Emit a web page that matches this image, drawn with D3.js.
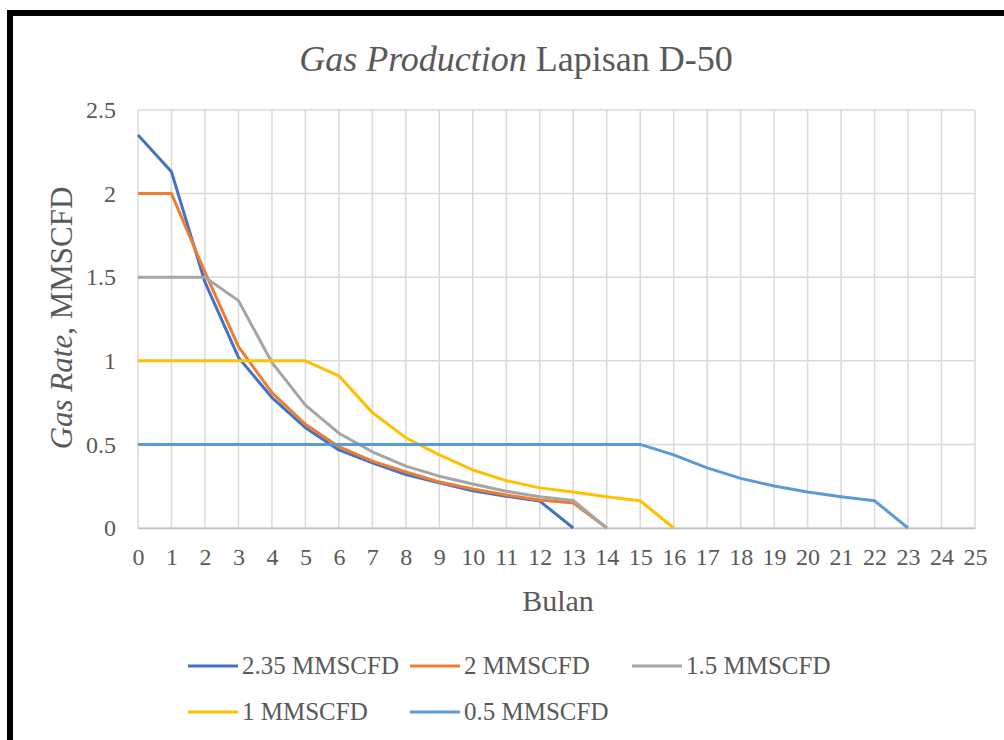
<!DOCTYPE html>
<html>
<head>
<meta charset="utf-8">
<script src="https://cdn.jsdelivr.net/npm/d3@7"></script>
<style>
  body { margin: 0; background: #fff; }
  svg { display: block; }
  text { font-family: "Liberation Serif", "DejaVu Serif", serif; fill: #595959; }
</style>
</head>
<body>
<svg id="chart" width="1004" height="740"></svg>
<script>
// ---- data ----
const months = d3.range(0, 26);               // Bulan 0..25 (x ticks)
const yTicks = [0, 0.5, 1, 1.5, 2, 2.5];
const seriesNames = ["2.35 MMSCFD", "2 MMSCFD", "1.5 MMSCFD", "1 MMSCFD", "0.5 MMSCFD"];
const seriesColors = ["#4472C4", "#ED7D31", "#A5A5A5", "#FFC000", "#5B9BD5"];
const rate235 = [2.35, 2.13, 1.47, 1.02, 0.78, 0.60, 0.467, 0.39, 0.32, 0.27, 0.223, 0.19, 0.161, 0];
const rate2   = [2.0, 2.0, 1.53, 1.085, 0.81, 0.62, 0.486, 0.40, 0.335, 0.275, 0.233, 0.197, 0.167, 0.15, 0];
const rate15  = [1.5, 1.5, 1.5, 1.36, 0.99, 0.735, 0.567, 0.456, 0.37, 0.31, 0.263, 0.22, 0.187, 0.165, 0];
const rate1   = [1.0, 1.0, 1.0, 1.0, 1.0, 1.0, 0.91, 0.69, 0.54, 0.437, 0.347, 0.283, 0.24, 0.215, 0.187, 0.163, 0];
const rate05  = [0.5, 0.5, 0.5, 0.5, 0.5, 0.5, 0.5, 0.5, 0.5, 0.5, 0.5, 0.5, 0.5, 0.5, 0.5, 0.5, 0.437, 0.36, 0.297, 0.251, 0.215, 0.187, 0.163, 0];
const seriesValues = [rate235, rate2, rate15, rate1, rate05];

// ---- layout ----
const svg = d3.select("#chart");
const x = d3.scaleLinear().domain([0, 25]).range([138, 975]);
const y = d3.scaleLinear().domain([0, 2.5]).range([528, 110]);

// outer frame
svg.append("rect").attr("x", 10).attr("y", 13).attr("width", 1100).attr("height", 1000)
  .attr("fill", "none").attr("stroke", "#000").attr("stroke-width", 6);

// gridlines
const grid = svg.append("g");
grid.selectAll("line.v").data(months).join("line")
  .attr("x1", d => x(d)).attr("x2", d => x(d))
  .attr("y1", y(2.5)).attr("y2", y(0))
  .attr("stroke", "#d9d9d9").attr("stroke-width", 1.5);
grid.selectAll("line.h").data(yTicks).join("line")
  .attr("x1", x(0)).attr("x2", x(25))
  .attr("y1", d => y(d)).attr("y2", d => y(d))
  .attr("stroke", "#d9d9d9").attr("stroke-width", 1.5);

// axes
const xAxis = svg.append("g").attr("transform", `translate(0,${y(0)})`)
  .call(d3.axisBottom(x).tickValues(months).tickSize(0).tickPadding(20).tickFormat(d3.format("d")));
xAxis.select(".domain").attr("stroke", "#bfbfbf").attr("stroke-width", 1.5);
xAxis.selectAll("text").style("font-size", "24px").attr("fill", "#595959");

const yAxis = svg.append("g").attr("transform", `translate(${x(0) - 22},0)`)
  .call(d3.axisLeft(y).tickValues(yTicks).tickSize(0).tickPadding(0).tickFormat(d => String(d)));
yAxis.select(".domain").remove();
yAxis.selectAll("text").style("font-size", "24px").attr("fill", "#595959");

// lines
const line = d3.line().x((d, i) => x(i)).y(d => y(d));
svg.append("g").selectAll("path").data(seriesValues).join("path")
  .attr("d", d => line(d))
  .attr("fill", "none")
  .attr("stroke", (d, i) => seriesColors[i])
  .attr("stroke-width", 3)
  .attr("stroke-linejoin", "round");

// title
const title = svg.append("text").attr("x", 516).attr("y", 71).attr("text-anchor", "middle")
  .style("font-size", "36px");
title.append("tspan").attr("font-style", "italic").text("Gas Production");
title.append("tspan").text(" Lapisan D-50");

// y-axis title
const yt = svg.append("text").attr("transform", "translate(72,318) rotate(-90)")
  .attr("text-anchor", "middle").style("font-size", "31px");
yt.append("tspan").attr("font-style", "italic").text("Gas Rate");
yt.append("tspan").text(", MMSCFD");

// x-axis title
svg.append("text").attr("x", 558).attr("y", 611).attr("text-anchor", "middle")
  .style("font-size", "30px").text("Bulan");

// legend
const legendPos = [[188, 666], [410, 666], [632, 666], [188, 712], [410, 712]];
const lg = svg.append("g").selectAll("g").data(seriesNames).join("g")
  .attr("transform", (d, i) => `translate(${legendPos[i][0]},${legendPos[i][1]})`);
lg.append("line").attr("x1", 0).attr("x2", 50).attr("y1", 0).attr("y2", 0)
  .attr("stroke", (d, i) => seriesColors[i]).attr("stroke-width", 3);
lg.append("text").attr("x", 54).attr("y", 8).style("font-size", "25px").attr("fill", "#404040").text(d => d);
</script>
</body>
</html>
